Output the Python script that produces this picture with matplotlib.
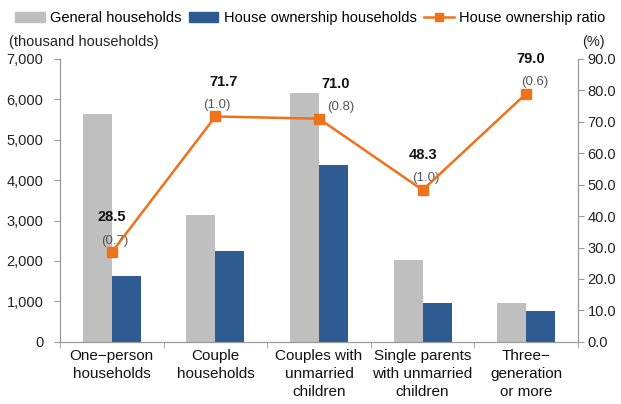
import numpy as np
import matplotlib.pyplot as plt
from matplotlib.lines import Line2D
from matplotlib.patches import Patch

categories = ['One\u2212person\nhouseholds', 'Couple\nhouseholds', 'Couples with\nunmarried\nchildren',
              'Single parents\nwith unmarried\nchildren', 'Three\u2212\ngeneration\nor more']
general = [5640, 3140, 6150, 2020, 970]
ownership = [1630, 2250, 4370, 970, 770]
ratio = [28.5, 71.7, 71.0, 48.3, 79.0]
ratio_se = ['(0.7)', '(1.0)', '(0.8)', '(1.0)', '(0.6)']

gray = '#BFBFBF'
blue = '#2F5B93'
orange = '#EE7219'

plt.rcParams['font.family'] = ['Liberation Sans', 'DejaVu Sans']

fig = plt.figure(figsize=(6.21, 4.04), dpi=100)
ax = fig.add_axes([0.0966, 0.154, 0.8342, 0.700])
ax2 = ax.twinx()

x = np.arange(len(categories))
w = 0.28
ax.bar(x - w / 2, general, w, color=gray, zorder=2)
ax.bar(x + w / 2, ownership, w, color=blue, zorder=2)

ax.set_xlim(-0.5, len(categories) - 0.5)
ax.set_ylim(0, 7000)
ax.set_yticks(range(0, 7001, 1000))
ax.set_yticklabels([f'{v:,}' for v in range(0, 7001, 1000)], fontsize=10.5, color='#222222')
ax.set_xticks(x)
ax.set_xticklabels(categories, fontsize=11, color='#111111', linespacing=1.38)
ax.tick_params(axis='x', length=0, pad=5)
ax.set_xticks(np.arange(-0.5, len(categories), 1), minor=True)
ax.tick_params(axis='x', which='minor', length=4, color='#999999')
ax.tick_params(axis='y', length=4, color='#999999', pad=8)

ax2.plot(x, ratio, color=orange, lw=1.8, marker='s', markersize=7, zorder=5)
ax2.set_ylim(0, 90)
ax2.set_yticks(np.arange(0, 91, 10))
ax2.set_yticklabels([f'{v:.1f}' for v in np.arange(0, 91, 10)], fontsize=10.5, color='#222222')
ax2.tick_params(axis='y', length=4, color='#999999', pad=3)

value_dx = [0, 6, 12, 0, 3]
se_dx = [2, 1, 16, 2, 6]
for i, (r, s) in enumerate(zip(ratio, ratio_se)):
    ax2.annotate(s, (x[i], r), xytext=(se_dx[i], 4), textcoords='offset points',
                 ha='center', va='bottom', fontsize=9.5, color='#555555')
    ax2.annotate(f'{r:.1f}', (x[i], r), xytext=(value_dx[i], 20), textcoords='offset points',
                 ha='center', va='bottom', fontsize=10.5, fontweight='bold', color='#111111')

for a in (ax, ax2):
    a.spines['top'].set_visible(False)
    for s in ('left', 'right', 'bottom'):
        a.spines[s].set_color('#999999')

fig.text(0.015, 0.885, '(thousand households)', fontsize=10.5, color='#222222')
fig.text(0.955, 0.885, '(%)', fontsize=10.5, color='#222222', ha='center')

handles = [Patch(color=gray), Patch(color=blue),
           Line2D([], [], color=orange, lw=1.8, marker='s', markersize=6)]
labels = ['General households', 'House ownership households', 'House ownership ratio']
fig.legend(handles, labels, loc='upper center', bbox_to_anchor=(0.5, 1.005), ncol=3, frameon=False,
           fontsize=10.5, handlelength=2.0, handletextpad=0.4, columnspacing=0.5)

fig.savefig('out.png', dpi=100)
